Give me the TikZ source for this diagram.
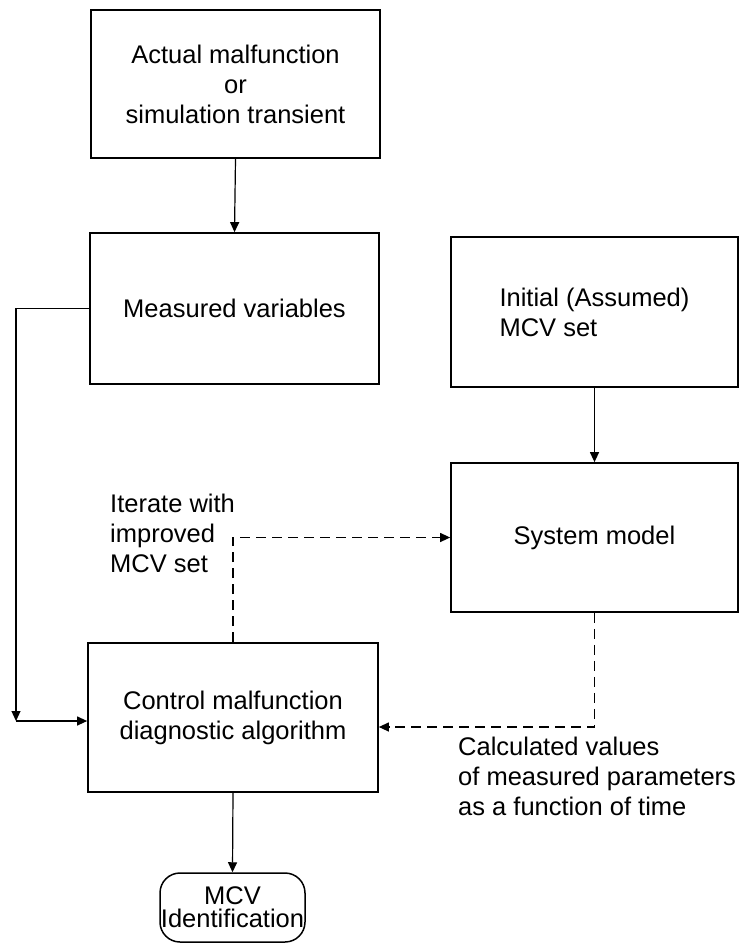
\documentclass[tikz,border=0pt]{standalone}
\usepackage{fontspec}
\setmainfont{Liberation Sans}
\usetikzlibrary{arrows.meta}
\begin{document}
\begin{tikzpicture}[x=1pt,y=-1pt,
  every node/.style={font=\fontsize{25.5}{30}\selectfont},
  box/.style={draw,line width=1.7pt,inner sep=0pt,align=center},
  conn/.style={line width=1.2pt,-{Triangle[length=10pt,width=9pt]}},
  dconn/.style={conn,dash pattern=on 10pt off 6pt}]
\useasboundingbox (0,0) rectangle (741,943);
\node[box,minimum width=289pt,minimum height=148pt] (act) at (235.5,84) {Actual malfunction\\or\\simulation transient};
\node[box,minimum width=289pt,minimum height=151pt] (meas) at (234.5,308.5) {Measured variables};
\node[box,minimum width=287pt,minimum height=150pt,align=left] (init) at (594.5,312) {Initial (Assumed)\\MCV set};
\node[box,minimum width=287pt,minimum height=149pt] (sys) at (594.5,537.5) {System model};
\node[box,minimum width=290pt,minimum height=149pt] (ctrl) at (233,717.5) {Control malfunction\\diagnostic algorithm};
\node[draw,line width=1.5pt,rounded corners=20pt,inner sep=0pt,minimum width=145pt,minimum height=69pt,align=center,font=\fontsize{25.5}{23}\selectfont] (mcv) at (232.5,907.5) {MCV\\Identification};
\node[anchor=north west,inner sep=0pt,align=left] (iter) at (110,494) {Iterate with\\improved\\MCV set};
\node[anchor=north west,inner sep=0pt,align=left] (calc) at (458,737) {Calculated values\\of measured parameters\\as a function of time};
\coordinate (lc1) at (16,308.5);
\coordinate (lc2) at (16,721);
\coordinate (rc) at (594.5,727);
\draw[conn] (act.south) -- (meas.north);
\draw[conn] (init.south) -- (sys.north);
\draw[conn] (ctrl.south) -- (mcv.north);
\draw[conn] (meas.west) -- (lc1) -- (lc2);
\draw[conn] (lc2) -- (ctrl.west |- lc2);
\draw[dconn] (ctrl.north) -- (ctrl.north |- sys.west) -- (sys.west);
\draw[dconn] (sys.south) -- (rc) -- (ctrl.east |- rc);
\end{tikzpicture}
\end{document}
